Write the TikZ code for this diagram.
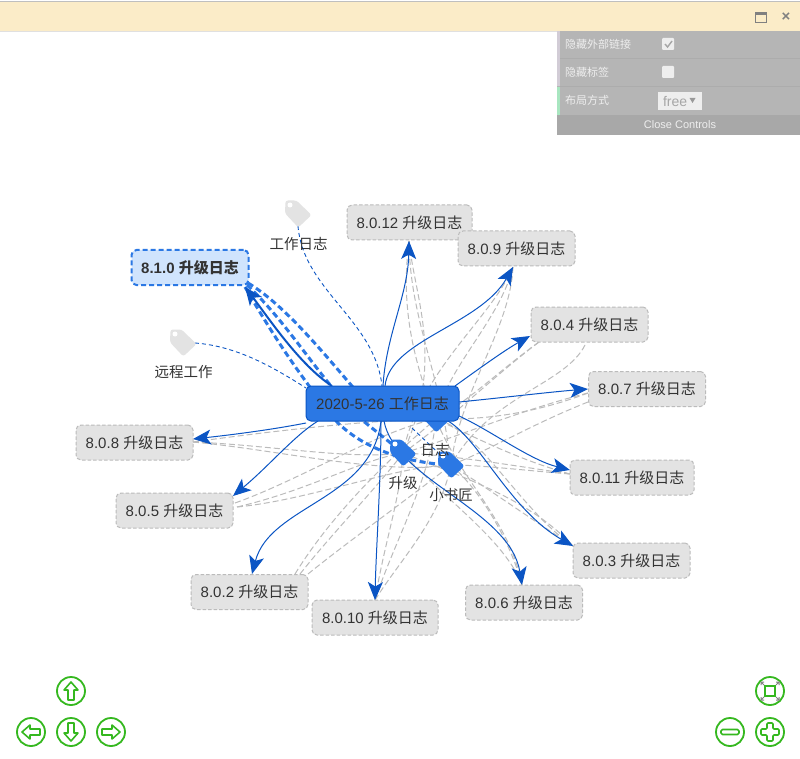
\documentclass[tikz,border=0pt]{standalone}
\usepackage{fontspec}
\setmainfont{Liberation Sans}
\newfontfamily\cjk{Noto Sans CJK SC}
\usetikzlibrary{arrows.meta,calc}
\definecolor{lnk}{HTML}{0B55C4}
\definecolor{blu}{HTML}{2B78E4}
\definecolor{gry}{HTML}{BBBBBB}
\definecolor{bx}{HTML}{E3E3E3}
\definecolor{txt}{HTML}{333333}
\definecolor{grn}{HTML}{35B81F}
\definecolor{barc}{HTML}{FBECC8}
\definecolor{pnl}{HTML}{B5B5B5}
\definecolor{pnd}{HTML}{A8A8A8}
\definecolor{pna}{HTML}{D2CCD6}
\definecolor{pnb}{HTML}{A8E6C0}
\definecolor{chk}{HTML}{EEEEEE}
\definecolor{sel}{HTML}{D0E4FD}
\newcommand{\tg}[1]{{\cjk #1}}
\tikzset{
 every node/.style={inner sep=0pt,outer sep=0pt},
 ver/.style={draw=gry,dash pattern=on 3.5pt off 2pt,line width=1pt,fill=bx,rounded corners=5pt,text=txt,font=\fontsize{15}{18}\selectfont},
 graylink/.style={draw=gry,line width=1pt,dash pattern=on 6pt off 3pt},
 bluelink/.style={draw=lnk,line width=1pt,-{Stealth[length=18pt,width=15pt,inset=4.5pt]}},
 thinlink/.style={draw=lnk,line width=0.9pt,dash pattern=on 4pt off 3pt},
 boldlink/.style={draw=blu,line width=3pt,dash pattern=on 6pt off 3.5pt},
 taglabel/.style={text=txt,font=\fontsize{14.5}{17}\selectfont},
 panel/.style={text=chk,font=\fontsize{11}{13}\selectfont},
 ctrl/.style={draw=grn,line width=1.8pt,fill=white},
 glyph/.style={draw=grn,line width=1.6pt,line join=round,fill=white},
}
\newcommand{\tagshape}[3]{%
 \fill[#3,rounded corners=2.5pt,shift={(#1,#2)}] (-12.5,-13.5)--(-1.5,-13.5)--(13.5,1)--(0.3,13.5)--(-13,-0.7)--cycle;
 \fill[white] (#1-8,#2-9) circle (2.5);
}
\begin{document}
\begin{tikzpicture}[x=1pt,y=-1pt]
\useasboundingbox (0,0) rectangle (800,759);
\fill[white] (0,0) rectangle (800,759);
% tag anchors
\coordinate (tw) at (298,214);
\coordinate (ty) at (183,343);
\coordinate (tr) at (436,419);
\coordinate (ts) at (403,453);
\coordinate (tx) at (451,465);
% link ends at the version boxes
\coordinate (e12) at (409,241);
\coordinate (e9) at (513,267);
\coordinate (e4) at (530,336);
\coordinate (e7) at (588,389);
\coordinate (e11) at (570,470);
\coordinate (e3) at (573,546);
\coordinate (e6) at (522,585);
\coordinate (e10) at (375,600);
\coordinate (e2) at (252,574);
\coordinate (e5) at (233,496);
\coordinate (e8) at (193,439);
\coordinate (e10b) at (245,287);
\coordinate (g4) at (585,345);
\coordinate (g4b) at (539,342);
\coordinate (g7) at (588,393);
\coordinate (g7b) at (588,402);
\coordinate (g5) at (235,503);
\coordinate (g5b) at (237,507);
\coordinate (g2) at (295,574);
\coordinate (g2b) at (300,574);
\coordinate (g2c) at (308,574);
\coordinate (g11) at (570,474);
\coordinate (g8) at (193,442);
% gray links: version to tag
\draw[graylink] (e12) .. controls (403,290) and (405,340) .. (tr);
\draw[graylink] (e12) .. controls (415,300) and (445,360) .. (ts);
\draw[graylink] (e12) .. controls (410,320) and (440,370) .. (tx);
\draw[graylink] (e9) .. controls (490,320) and (420,370) .. (ts);
\draw[graylink] (e9) .. controls (500,320) and (445,370) .. (tr);
\draw[graylink] (e9) .. controls (510,330) and (460,390) .. (tx);
\draw[graylink] (g4b) .. controls (500,370) and (470,400) .. (tr);
\draw[graylink] (g4b) .. controls (495,375) and (450,420) .. (ts);
\draw[graylink] (g4) .. controls (565,385) and (490,395) .. (tx);
\draw[graylink] (g7) .. controls (530,415) and (480,420) .. (tr);
\draw[graylink] (g7) .. controls (520,410) and (450,440) .. (ts);
\draw[graylink] (g7b) .. controls (530,425) and (490,450) .. (tx);
\draw[graylink] (g11) .. controls (520,460) and (480,440) .. (tr);
\draw[graylink] (g11) .. controls (510,465) and (450,455) .. (ts);
\draw[graylink] (g11) .. controls (520,470) and (480,465) .. (tx);
\draw[graylink] (e3) .. controls (520,510) and (480,430) .. (tr);
\draw[graylink] (e3) .. controls (530,500) and (470,480) .. (ts);
\draw[graylink] (e3) .. controls (525,515) and (490,490) .. (tx);
\draw[graylink] (e6) .. controls (505,540) and (445,500) .. (ts);
\draw[graylink] (e6) .. controls (510,520) and (460,480) .. (tr);
\draw[graylink] (e6) .. controls (510,540) and (480,490) .. (tx);
\draw[graylink] (e10) .. controls (385,540) and (400,500) .. (ts);
\draw[graylink] (e10) .. controls (395,540) and (430,480) .. (tr);
\draw[graylink] (e10) .. controls (400,560) and (440,520) .. (tx);
\draw[graylink] (g2) .. controls (325,525) and (375,470) .. (tr);
\draw[graylink] (g2b) .. controls (335,530) and (375,490) .. (ts);
\draw[graylink] (g2c) .. controls (350,540) and (400,505) .. (tx);
\draw[graylink] (g5) .. controls (300,480) and (380,430) .. (tr);
\draw[graylink] (g5b) .. controls (310,490) and (360,460) .. (ts);
\draw[graylink] (g5b) .. controls (310,500) and (400,465) .. (tx);
\draw[graylink] (g8) .. controls (280,430) and (370,420) .. (tr);
\draw[graylink] (g8) .. controls (270,445) and (350,460) .. (ts);
\draw[graylink] (g8) .. controls (280,450) and (380,475) .. (tx);
% tag links
\draw[thinlink] (298,226) .. controls (303,290) and (375,320) .. (382,386);
\draw[thinlink] (195,343) .. controls (235,346) and (270,365) .. (306,388);
\draw[thinlink] (412,428) -- (tx);
% bold dashed links from the selected node
\draw[boldlink] (e10b) .. controls (270,330) and (295,370) .. (337,422) .. controls (355,440) and (390,462) .. (tx);
\draw[boldlink] (247,285) .. controls (290,325) and (320,380) .. (362,420) -- (ts);
\draw[boldlink] (248,283) .. controls (285,305) and (325,355) .. (358,393) .. controls (380,405) and (415,415) .. (tr);
% blue links from the centre
\draw[bluelink] (383,386) .. controls (386,335) and (408,295) .. (e12);
\draw[bluelink] (385,386) .. controls (390,340) and (480,325) .. (e9);
\draw[bluelink] (455,386) .. controls (480,368) and (505,350) .. (e4);
\draw[bluelink] (459,402) .. controls (500,398) and (550,392) .. (e7);
\draw[bluelink] (459,416) .. controls (490,430) and (530,460) .. (e11);
\draw[bluelink] (448,421) .. controls (480,440) and (510,510) .. (e3);
\draw[bluelink] (384,421) .. controls (395,480) and (510,510) .. (e6);
\draw[bluelink] (381,421) .. controls (381,480) and (376,550) .. (e10);
\draw[bluelink] (381,421) .. controls (372,500) and (270,505) .. (e2);
\draw[bluelink] (318,421) .. controls (295,435) and (270,465) .. (e5);
\draw[bluelink] (306,423) .. controls (270,430) and (230,435) .. (e8);
\draw[draw=lnk,line width=2pt,-{Stealth[length=18pt,width=15pt,inset=4.5pt]}] (332,386) .. controls (300,365) and (270,320) .. (e10b);
% version boxes
\node[ver,minimum width=125pt,minimum height=35pt] (n12) at (409.5,222.5) {8.0.12 \tg{升级日志}};
\node[ver,minimum width=117pt,minimum height=35pt] (n9) at (516.5,248.5) {8.0.9 \tg{升级日志}};
\node[ver,minimum width=117pt,minimum height=35pt] (n4) at (589.5,324.5) {8.0.4 \tg{升级日志}};
\node[ver,minimum width=117pt,minimum height=35pt] (n7) at (647,389) {8.0.7 \tg{升级日志}};
\node[ver,minimum width=124pt,minimum height=35pt] (n11) at (632,477.5) {8.0.11 \tg{升级日志}};
\node[ver,minimum width=117pt,minimum height=35pt] (n3) at (631.5,560.5) {8.0.3 \tg{升级日志}};
\node[ver,minimum width=117pt,minimum height=35pt] (n6) at (524,602.5) {8.0.6 \tg{升级日志}};
\node[ver,minimum width=126pt,minimum height=35pt] (n10) at (375,617.5) {8.0.10 \tg{升级日志}};
\node[ver,minimum width=117pt,minimum height=35pt] (n2) at (249.5,592) {8.0.2 \tg{升级日志}};
\node[ver,minimum width=117pt,minimum height=35pt] (n5) at (174.5,510.5) {8.0.5 \tg{升级日志}};
\node[ver,minimum width=117pt,minimum height=35pt] (n8) at (134.5,442.5) {8.0.8 \tg{升级日志}};
\node[draw=blu,dash pattern=on 5pt off 3pt,line width=2pt,fill=sel,rounded corners=5pt,text=txt,font=\fontsize{15}{18}\selectfont\bfseries,minimum width=117pt,minimum height=35pt] (n10b) at (190,267.5) {8.1.0 \tg{\bfseries 升级日志}};
% tags
\tagshape{298}{214}{bx}
\tagshape{183}{343}{bx}
\tagshape{436}{419}{blu}
\tagshape{403}{453}{blu}
\tagshape{451}{465}{blu}
% centre
\node[draw=lnk,line width=1pt,fill=blu,rounded corners=5pt,text=txt,font=\fontsize{15}{18}\selectfont,minimum width=153pt,minimum height=35pt] (c) at (382.5,403.5) {2020-5-26 \tg{工作日志}};
\fill[blu] (418,408.5) rectangle (436,413);
\node[taglabel] (lw) at (298.5,244) {\tg{工作日志}};
\node[taglabel] (ly) at (183.5,372) {\tg{远程工作}};
\node[taglabel] (lr) at (435,450) {\tg{日志}};
\node[taglabel] (ls) at (403,483) {\tg{升级}};
\node[taglabel] (lx) at (451,495) {\tg{小书匠}};
% title bar
\fill[barc] (0,2) rectangle (800,31);
\fill[black!25] (0,1) rectangle (800,2);
\fill[black!12] (0,31) rectangle (800,32);
\draw[black!50,line width=1pt] (755.5,13) rectangle (766.5,23);
\fill[black!50] (755,12.5) rectangle (767,15.5);
\node[text=black!50,font=\bfseries\fontsize{15}{15}\selectfont] (xx) at (786,17.5) {×};
% panel
\fill[pnl] (557,31) rectangle (800,135);
\fill[pnd] (557,115) rectangle (800,135);
\fill[pna] (557,31) rectangle (560,86);
\fill[pnb] (557,87) rectangle (560,115);
\draw[black!5!pnl,line width=.8pt] (560,58.5) -- (800,58.5) (560,86.5) -- (800,86.5);
\node[panel,anchor=west] (p1) at (565,44) {\tg{隐藏外部链接}};
\node[panel,anchor=west] (p2) at (565,72) {\tg{隐藏标签}};
\node[panel,anchor=west] (p3) at (565,100) {\tg{布局方式}};
\node[panel] (p4) at (680,124.5) {Close Controls};
\fill[chk,rounded corners=1pt] (662,38) rectangle (674,50);
\fill[chk,rounded corners=1pt] (662,66) rectangle (674,78);
\draw[black!35,line width=1.4pt] (665,44) -- (667.5,47) -- (672,41);
\fill[chk] (658,92) rectangle (702,110);
\node[text=black!35,anchor=west,font=\fontsize{14}{16}\selectfont] (p5) at (663,101.5) {free};
\fill[black!40] (689.5,98) -- (695.5,98) -- (692.5,103) -- cycle;
% navigation buttons
\begin{scope}[shift={(71,691)}]
 \draw[ctrl] (0,0) circle (14);
 \draw[glyph] (0,-9) -- (7,-1) -- (3,-1) -- (3,9) -- (-3,9) -- (-3,-1) -- (-7,-1) -- cycle;
\end{scope}
\begin{scope}[shift={(71,732)}]
 \draw[ctrl] (0,0) circle (14);
 \draw[glyph] (0,9) -- (7,1) -- (3,1) -- (3,-9) -- (-3,-9) -- (-3,1) -- (-7,1) -- cycle;
\end{scope}
\begin{scope}[shift={(31,732)}]
 \draw[ctrl] (0,0) circle (14);
 \draw[glyph] (-9,0) -- (-1,7) -- (-1,3) -- (9,3) -- (9,-3) -- (-1,-3) -- (-1,-7) -- cycle;
\end{scope}
\begin{scope}[shift={(111,732)}]
 \draw[ctrl] (0,0) circle (14);
 \draw[glyph] (9,0) -- (1,7) -- (1,3) -- (-9,3) -- (-9,-3) -- (1,-3) -- (1,-7) -- cycle;
\end{scope}
\begin{scope}[shift={(770,691)}]
 \draw[ctrl] (0,0) circle (14);
 \draw[grn,line width=1.8pt] (-5,-5) rectangle (5,5);
 \draw[black!50,line width=1pt] (-9,-6) -- (-9,-9) -- (-6,-9) (-9,-9) -- (-6,-6) (9,-6) -- (9,-9) -- (6,-9) (9,-9) -- (6,-6) (-9,6) -- (-9,9) -- (-6,9) (-9,9) -- (-6,6) (9,6) -- (9,9) -- (6,9) (9,9) -- (6,6);
\end{scope}
\begin{scope}[shift={(730,732)}]
 \draw[ctrl] (0,0) circle (14);
 \draw[glyph,rounded corners=1.5pt] (-9,-2.5) rectangle (9,2.5);
\end{scope}
\begin{scope}[shift={(770,732)}]
 \draw[ctrl] (0,0) circle (14);
 \draw[glyph,rounded corners=1pt] (-3,-9) -- (3,-9) -- (3,-3) -- (9,-3) -- (9,3) -- (3,3) -- (3,9) -- (-3,9) -- (-3,3) -- (-9,3) -- (-9,-3) -- (-3,-3) -- cycle;
\end{scope}
\end{tikzpicture}
\end{document}
